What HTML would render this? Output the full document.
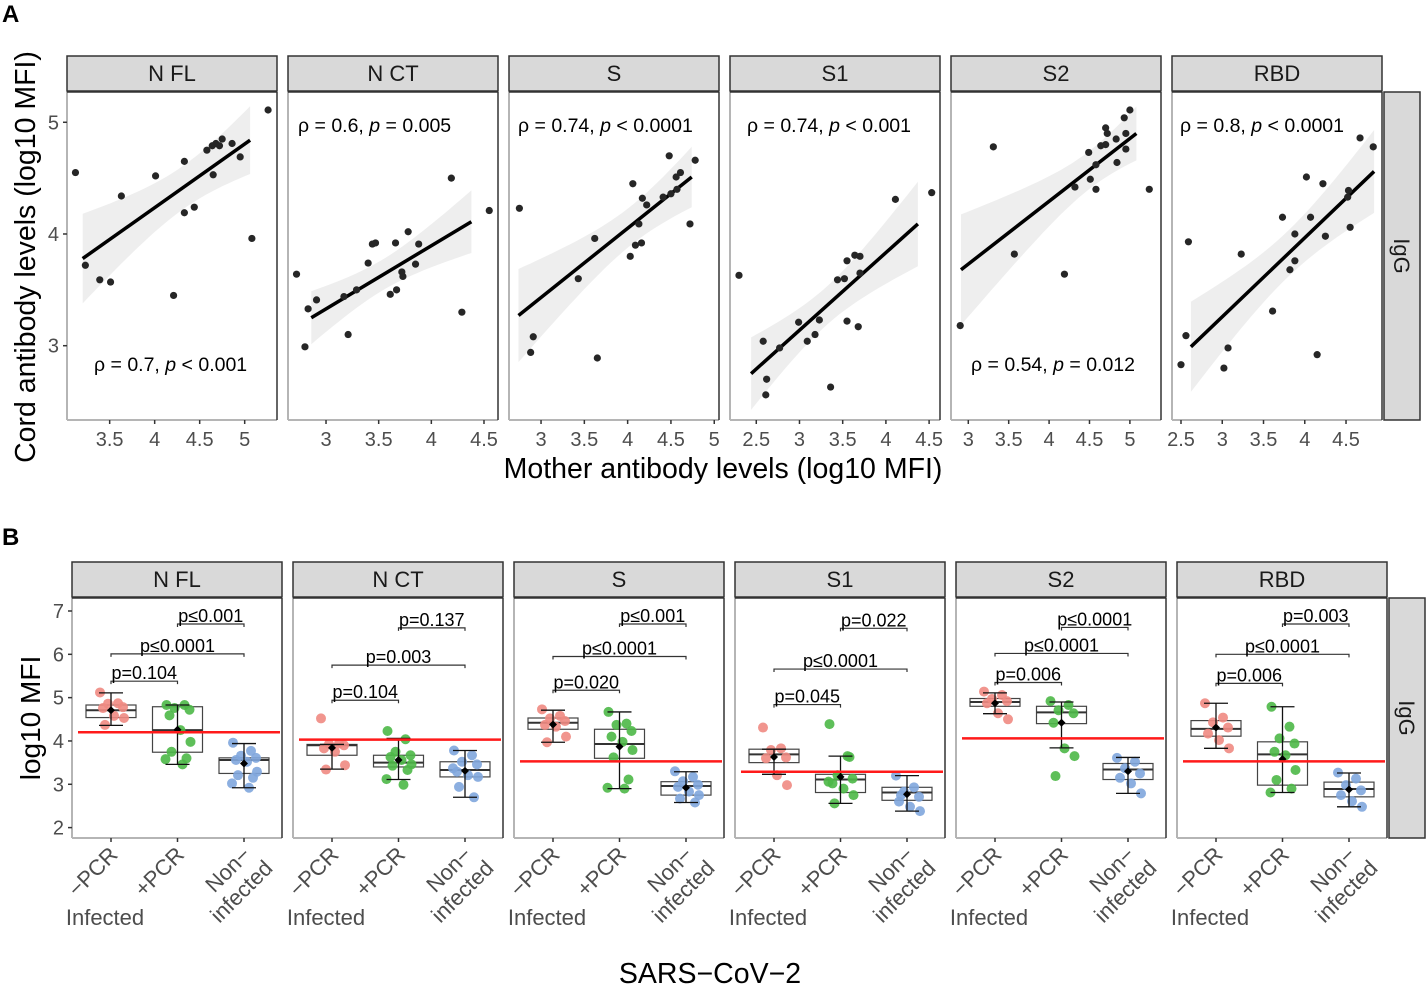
<!DOCTYPE html>
<html><head><meta charset="utf-8"><style>
html,body{margin:0;padding:0;background:#fff;}
svg{display:block;font-family:"Liberation Sans",Arial,sans-serif;}
</style></head><body>
<svg id="fig" width="1426" height="985" viewBox="0 0 1426 985" xmlns="http://www.w3.org/2000/svg"></svg>
<script>
// ---------- Panel A data ----------
const antigens = ["N FL","N CT","S","S1","S2","RBD"];
const motherNFL = [3.12,3.23,3.39,3.51,3.63,4.01,4.21,4.33,4.33,4.44,4.58,4.64,4.68,4.72,4.75,4.65,4.86,4.95,5.08,5.26];
const cordNFL   = [4.55,3.72,3.59,3.57,4.34,4.52,3.45,4.65,4.19,4.24,4.75,4.79,4.81,4.79,4.85,4.53,4.81,4.69,3.96,5.11];
const motherNCT = [2.72,2.80,2.83,2.91,3.17,3.21,3.29,3.40,3.44,3.47,3.61,3.67,3.66,3.72,3.73,3.78,3.85,3.88,4.19,4.29,4.55];
const cordNCT   = [3.64,2.99,3.33,3.41,3.44,3.10,3.50,3.74,3.91,3.92,3.46,3.50,3.92,3.66,3.62,4.02,3.73,3.91,4.50,3.30,4.21];
const motherS = [2.75,2.88,2.91,3.43,3.62,3.65,4.03,4.09,4.16,4.13,4.06,4.17,4.22,4.41,4.50,4.57,4.48,4.56,4.61,4.72,4.78];
const cordS   = [4.23,2.94,3.08,3.60,3.96,2.89,3.80,3.90,3.92,4.09,4.45,4.32,4.26,4.33,4.36,4.40,4.70,4.51,4.55,4.09,4.66];
const motherS1 = [2.30,2.58,2.62,2.61,2.77,2.99,3.09,3.18,3.23,3.36,3.44,3.52,3.55,3.55,3.64,3.70,3.70,3.68,4.11,4.53];
const cordS1   = [3.63,3.04,2.70,2.56,2.98,3.21,3.04,3.10,3.23,2.63,3.59,3.60,3.22,3.76,3.81,3.80,3.65,3.17,4.31,4.37];
const motherS2 = [2.90,3.31,3.57,4.19,4.32,4.49,4.51,4.58,4.58,4.64,4.70,4.70,4.72,4.83,4.84,4.93,4.95,4.95,5.00,5.24];
const cordS2   = [3.18,4.78,3.82,3.64,4.42,4.73,4.49,4.40,4.62,4.79,4.80,4.95,4.90,4.85,4.64,5.04,4.90,4.76,5.11,4.40];
const motherRBD = [2.50,2.56,2.59,3.02,3.07,3.23,3.61,3.73,3.82,3.88,3.88,4.02,4.07,4.15,4.22,4.25,4.53,4.52,4.55,4.67,4.83];
const cordRBD   = [2.83,3.09,3.93,2.80,2.98,3.82,3.31,4.15,3.68,3.76,4.00,4.51,4.15,2.92,4.45,3.98,4.39,4.33,4.06,4.86,4.78];
const fitFrom = [3.20,2.86,2.74,2.44,2.91,2.62];
const fitTo   = [5.06,4.38,4.74,4.37,5.08,4.84];
const fitYFrom = [3.78,3.25,3.27,2.75,3.68,2.99];
const fitYTo   = [4.84,4.11,4.51,4.09,4.90,4.56];
const rhoLabels = ["0.7","0.6","0.74","0.74","0.54","0.8"];
const pLabels = ["< 0.001","= 0.005","< 0.0001","< 0.001","= 0.012","< 0.0001"];
const xTicksA = [[3.5,4,4.5,5],[3,3.5,4,4.5],[3,3.5,4,4.5,5],[2.5,3,3.5,4,4.5],[3,3.5,4,4.5,5],[2.5,3,3.5,4,4.5]];
const yTicksA = [3,4,5];
const xDomA = [[3.026,5.359],[2.639,4.633],[2.630,5.055],[2.196,4.626],[2.786,5.385],[2.391,4.936]];
const yDomA = [2.335,5.271];

// ---------- Panel B data ----------
const groups = ["-PCR","+PCR","Non-infected"];
const thresholds = [4.20,4.03,3.53,3.29,4.06,3.53];
// [lowerWhisker, q1, median, q3, upperWhisker, mean]
const boxNFL = [[4.36,4.54,4.71,4.83,5.11,4.71],[3.46,3.74,4.25,4.79,4.83,4.26],[2.92,3.25,3.56,3.61,3.94,3.48]];
const boxNCT = [[3.35,3.67,3.90,3.92,3.92,3.84],[3.11,3.40,3.50,3.67,4.06,3.56],[2.70,3.17,3.33,3.52,3.78,3.31]];
const boxS   = [[3.97,4.27,4.42,4.53,4.71,4.38],[2.90,3.60,3.93,4.27,4.67,3.87],[2.58,2.75,2.96,3.06,3.29,2.92]];
const boxS1  = [[3.23,3.50,3.69,3.81,3.81,3.63],[2.56,2.81,3.11,3.23,3.65,3.17],[2.38,2.63,2.81,2.93,3.20,2.77]];
const boxS2  = [[4.63,4.80,4.90,4.98,5.11,4.87],[3.84,4.40,4.66,4.80,4.90,4.42],[2.79,3.11,3.34,3.48,3.62,3.30]];
const boxRBD = [[3.83,4.11,4.28,4.47,4.87,4.31],[2.81,2.98,3.69,3.98,4.79,3.58],[2.48,2.71,2.89,3.05,3.26,2.88]];
const ptsNFL = [[5.12,4.87,4.86,4.78,4.76,4.58,4.53,4.37],[4.83,4.83,4.76,4.72,4.59,4.25,3.98,3.75,3.60,3.58,3.46],[3.96,3.77,3.66,3.61,3.56,3.52,3.29,3.21,3.15,3.02,2.92]];
const ptsNCT = [[4.52,3.94,3.93,3.90,3.83,3.75,3.44,3.34],[4.23,4.04,3.75,3.67,3.63,3.56,3.46,3.43,3.33,3.12,2.99],[3.78,3.67,3.52,3.46,3.29,3.21,3.17,2.94,2.70,3.37]];
const ptsS   = [[4.73,4.58,4.52,4.46,4.37,4.33,4.10,3.97],[4.67,4.40,4.37,4.23,4.10,3.98,3.79,3.62,3.11,2.92,2.90],[3.30,3.17,3.07,2.99,2.94,2.83,2.75,2.67,2.58]];
const ptsS1  = [[4.31,3.83,3.79,3.62,3.60,3.21,2.98],[4.39,3.65,3.21,3.13,3.02,2.90,2.75,2.56,3.63,3.06],[3.20,2.93,2.83,2.71,2.60,2.48,2.38,2.75]];
const ptsS2  = [[5.14,5.06,4.97,4.92,4.87,4.64,4.50],[4.92,4.83,4.71,4.64,4.42,3.83,3.65,3.19],[3.61,3.52,3.37,3.25,3.15,3.02,2.79]];
const ptsRBD = [[4.87,4.54,4.43,4.31,4.17,4.02,3.83],[4.79,4.33,4.06,3.94,3.75,3.67,3.33,3.10,2.90,2.81],[3.27,3.13,2.98,2.86,2.75,2.61,2.48]];
const cmpNFL = [[1,2,6.70,"p≤0.001"],[0,2,6.01,"p≤0.0001"],[0,1,5.38,"p=0.104"]];
const cmpNCT = [[1,2,6.61,"p=0.137"],[0,2,5.75,"p=0.003"],[0,1,4.94,"p=0.104"]];
const cmpS   = [[1,2,6.70,"p≤0.001"],[0,2,5.95,"p≤0.0001"],[0,1,5.17,"p=0.020"]];
const cmpS1  = [[1,2,6.60,"p=0.022"],[0,2,5.66,"p≤0.0001"],[0,1,4.84,"p=0.045"]];
const cmpS2  = [[1,2,6.62,"p≤0.0001"],[0,2,6.02,"p≤0.0001"],[0,1,5.35,"p=0.006"]];
const cmpRBD = [[1,2,6.70,"p=0.003"],[0,2,6.00,"p≤0.0001"],[0,1,5.33,"p=0.006"]];
const yTicksB = [2,3,4,5,6,7];
const yDomB = [1.76,7.30];

const svg = document.getElementById('fig');
const NS = 'http://www.w3.org/2000/svg';
function mk(tag, attrs, parent, txt){
  const e = document.createElementNS(NS, tag);
  for (const k in attrs) e.setAttribute(k, attrs[k]);
  if (txt !== undefined) e.textContent = txt;
  (parent||svg).appendChild(e);
  return e;
}
const T = '#4d4d4d';

let el = mk('text',{x:2,y:22,'font-size':24,'font-weight':'bold',fill:'#000'},svg,'A');


el = mk('text',{x:2,y:545,'font-size':24,'font-weight':'bold',fill:'#000'},svg,'B');



// ---------- Panel A ----------
const leftsA = [67,288,509,730,951,1172], WA = 210, topA = 92, botA = 420;
const motherAll = [motherNFL,motherNCT,motherS,motherS1,motherS2,motherRBD];
const cordAll = [cordNFL,cordNCT,cordS,cordS1,cordS2,cordRBD];
function yA(v){ return botA - (v - yDomA[0])/(yDomA[1]-yDomA[0])*(botA-topA); }
function xA(p,v){ const d=xDomA[p]; return leftsA[p] + (v-d[0])/(d[1]-d[0])*WA; }

for (let p=0;p<6;p++){
  const L = leftsA[p];
  const g = mk('g',{});
  
  
  const st = mk('rect',{x:L,y:56,width:WA,height:35,fill:'#d9d9d9',stroke:'#333','stroke-width':1.5},g);
  
  
  mk('text',{x:L+WA/2,y:81,'font-size':22,'text-anchor':'middle',fill:'#1a1a1a'},g,antigens[p]);
  mk('rect',{x:L,y:topA,width:WA,height:botA-topA,fill:'#fff'},g);
  const xs = motherAll[p], ys = cordAll[p], n = xs.length;
  const mx = xs.reduce((a,b)=>a+b,0)/n;
  const b = (fitYTo[p]-fitYFrom[p])/(fitTo[p]-fitFrom[p]);
  const a = fitYFrom[p] - b*fitFrom[p];
  let sxx=0, sse=0;
  for(let i=0;i<n;i++){ sxx+=(xs[i]-mx)**2; sse+=(ys[i]-a-b*xs[i])**2; }
  const s = Math.sqrt(sse/(n-2)), tq = 2.1;
  const up=[], lo=[];
  for(let k=0;k<=30;k++){
    const xv = fitFrom[p] + (fitTo[p]-fitFrom[p])*k/30;
    const se = s*Math.sqrt(1/n + (xv-mx)**2/sxx);
    const yh = a+b*xv;
    up.push(xA(p,xv).toFixed(1)+','+yA(Math.min(yh+tq*se,yDomA[1])).toFixed(1));
    lo.unshift(xA(p,xv).toFixed(1)+','+yA(Math.max(yh-tq*se,yDomA[0])).toFixed(1));
  }
  const band = mk('polygon',{points:up.concat(lo).join(' '),fill:'#ebebeb',opacity:0.85},g);
  
  
  const ln = mk('line',{x1:xA(p,fitFrom[p]),y1:yA(fitYFrom[p]),x2:xA(p,fitTo[p]),y2:yA(fitYTo[p]),stroke:'#000','stroke-width':3.5},g);
  
  
  for(let i=0;i<n;i++){
    const c = mk('circle',{cx:xA(p,xs[i]),cy:yA(ys[i]),r:3.6,fill:'#262626'},g);
    
    
  }
  mk('line',{x1:L,y1:topA,x2:L,y2:botA,stroke:'#b5b5b5','stroke-width':2},g);
  mk('line',{x1:L,y1:botA,x2:L+WA,y2:botA,stroke:'#b5b5b5','stroke-width':2},g);
  mk('line',{x1:L,y1:topA,x2:L+WA,y2:topA,stroke:'#333','stroke-width':1.5},g);
  mk('line',{x1:L+WA,y1:topA,x2:L+WA,y2:botA,stroke:'#333','stroke-width':1.5},g);
  xTicksA[p].forEach(t=>{
    const x = xA(p,t);
    mk('line',{x1:x,y1:botA,x2:x,y2:botA+4,stroke:'#333','stroke-width':1.5},g);
    const tl = mk('text',{x:x,y:446,'font-size':20,'text-anchor':'middle',fill:T},g,String(t));
    
    
  });
  const top = [false,true,true,true,false,true][p];
  const ax = [94,298,518,747,971,1180][p];
  const ay = top ? 132 : 371;
  const an = mk('text',{x:ax,y:ay,'font-size':19.5,fill:'#000'},g);
  
  
  mk('tspan',{},an,'ρ = '+rhoLabels[p]+', ');
  mk('tspan',{'font-style':'italic'},an,'p');
  mk('tspan',{},an,' '+pLabels[p]);
}
yTicksA.forEach(t=>{
  mk('line',{x1:63,y1:yA(t),x2:67,y2:yA(t),stroke:'#333','stroke-width':1.5});
  const tl = mk('text',{x:59,y:yA(t)+7,'font-size':20,'text-anchor':'end',fill:T},svg,String(t));
  
  
});
el = mk('rect',{x:1384,y:92,width:36,height:328,fill:'#d9d9d9',stroke:'#333','stroke-width':1.5});


mk('text',{x:1394,y:256,'font-size':22,'text-anchor':'middle',fill:'#1a1a1a',transform:'rotate(90 1394 256)'},svg,'IgG');
el = mk('text',{x:35,y:257,'font-size':28.5,'text-anchor':'middle',fill:'#000',transform:'rotate(-90 35 257)'},svg,'Cord antibody levels (log10 MFI)');


el = mk('text',{x:723,y:478,'font-size':28.5,'text-anchor':'middle',fill:'#000'},svg,'Mother antibody levels (log10 MFI)');



// ---------- Panel B ----------
const leftsB = [72,293,514,735,956,1177], WB = 210, topB = 598, botB = 838;
const boxAll = [boxNFL,boxNCT,boxS,boxS1,boxS2,boxRBD];
const ptsAll = [ptsNFL,ptsNCT,ptsS,ptsS1,ptsS2,ptsRBD];
const cmpAll = [cmpNFL,cmpNCT,cmpS,cmpS1,cmpS2,cmpRBD];
const colors = ['#ef8a82','#4cb847','#7fa6dd'];
const jit = [-11,7,-3,12,-8,3,13,-6,9,-12,5,-1];
function yB(v){ return botB - (v - yDomB[0])/(yDomB[1]-yDomB[0])*(botB-topB); }
function xB(p,gi){ return leftsB[p] + 39 + gi*66.5; }

for (let p=0;p<6;p++){
  const L = leftsB[p];
  const g = mk('g',{});
  
  
  const st = mk('rect',{x:L,y:562,width:WB,height:35,fill:'#d9d9d9',stroke:'#333','stroke-width':1.5},g);
  
  
  mk('text',{x:L+WB/2,y:587,'font-size':22,'text-anchor':'middle',fill:'#1a1a1a'},g,antigens[p]);
  mk('rect',{x:L,y:topB,width:WB,height:botB-topB,fill:'#fff'},g);
  for(let gi=0;gi<3;gi++){
    const bx = boxAll[p][gi], cx = xB(p,gi);
    const bg = mk('g',{},g);
    
    
    mk('rect',{x:cx-25,y:yB(bx[3]),width:50,height:yB(bx[1])-yB(bx[3]),fill:'none',stroke:'#444','stroke-width':1.2},bg);
    mk('line',{x1:cx-25,y1:yB(bx[2]),x2:cx+25,y2:yB(bx[2]),stroke:'#333','stroke-width':2},bg);
    ptsAll[p][gi].forEach((v,i)=>{
      const c = mk('circle',{cx:cx+jit[i%jit.length],cy:yB(v),r:5,fill:colors[gi],opacity:0.9},bg);
      
      
    });
    mk('line',{x1:cx,y1:yB(bx[0]),x2:cx,y2:yB(bx[4]),stroke:'#111','stroke-width':1.3},bg);
    mk('line',{x1:cx-12,y1:yB(bx[0]),x2:cx+12,y2:yB(bx[0]),stroke:'#111','stroke-width':1.3},bg);
    mk('line',{x1:cx-12,y1:yB(bx[4]),x2:cx+12,y2:yB(bx[4]),stroke:'#111','stroke-width':1.3},bg);
    const my = yB(bx[5]);
    const m = mk('polygon',{points:`${cx},${my-4} ${cx+4},${my} ${cx},${my+4} ${cx-4},${my}`,fill:'#000'},bg);
    
    
  }
  const th = mk('line',{x1:L+6,y1:yB(thresholds[p]),x2:L+WB-2,y2:yB(thresholds[p]),stroke:'#ff1a1a','stroke-width':2.5},g);
  
  
  cmpAll[p].forEach(c=>{
    const x1 = xB(p,c[0]), x2 = xB(p,c[1]), y = yB(c[2]);
    const br = mk('path',{d:`M${x1},${y+3}V${y}H${x2}V${y+3}`,fill:'none',stroke:'#333','stroke-width':1.2},g);
    
    
    const tx = mk('text',{x:(x1+x2)/2,y:y-2,'font-size':18,'text-anchor':'middle',fill:'#000'},g,c[3]);
    
    
  });
  mk('line',{x1:L,y1:topB,x2:L,y2:botB,stroke:'#b5b5b5','stroke-width':2},g);
  mk('line',{x1:L,y1:botB,x2:L+WB,y2:botB,stroke:'#b5b5b5','stroke-width':2},g);
  mk('line',{x1:L,y1:topB,x2:L+WB,y2:topB,stroke:'#333','stroke-width':1.5},g);
  mk('line',{x1:L+WB,y1:topB,x2:L+WB,y2:botB,stroke:'#333','stroke-width':1.5},g);
  const labs = ['−PCR','+PCR','Non−'];
  for(let gi=0;gi<3;gi++){
    const cx = xB(p,gi);
    mk('line',{x1:cx,y1:botB,x2:cx,y2:botB+4,stroke:'#333','stroke-width':1.5},g);
    const ax = cx+8, ay = 856;
    const t = mk('text',{x:ax,y:ay,'font-size':22,'text-anchor':'end',fill:T,transform:`rotate(-45 ${ax} ${ay})`},g,labs[gi]);
    
    
    if(gi===2){
      mk('text',{x:ax+6,y:ay+25,'font-size':22,'text-anchor':'end',fill:T,transform:`rotate(-45 ${ax} ${ay})`},g,'infected');
    }
  }
  const inf = mk('text',{x:L+33,y:925,'font-size':22,'text-anchor':'middle',fill:T},g,'Infected');
  
  
}
yTicksB.forEach(t=>{
  mk('line',{x1:68,y1:yB(t),x2:72,y2:yB(t),stroke:'#333','stroke-width':1.5});
  const tl = mk('text',{x:64,y:yB(t)+7,'font-size':20,'text-anchor':'end',fill:T},svg,String(t));
  
  
});
el = mk('rect',{x:1389,y:598,width:36,height:240,fill:'#d9d9d9',stroke:'#333','stroke-width':1.5});


mk('text',{x:1399,y:718,'font-size':22,'text-anchor':'middle',fill:'#1a1a1a',transform:'rotate(90 1399 718)'},svg,'IgG');
el = mk('text',{x:40,y:718,'font-size':28,'text-anchor':'middle',fill:'#000',transform:'rotate(-90 40 718)'},svg,'log10 MFI');


el = mk('text',{x:710,y:983,'font-size':28.5,'text-anchor':'middle',fill:'#000'},svg,'SARS−CoV−2');


</script>
</body></html>
